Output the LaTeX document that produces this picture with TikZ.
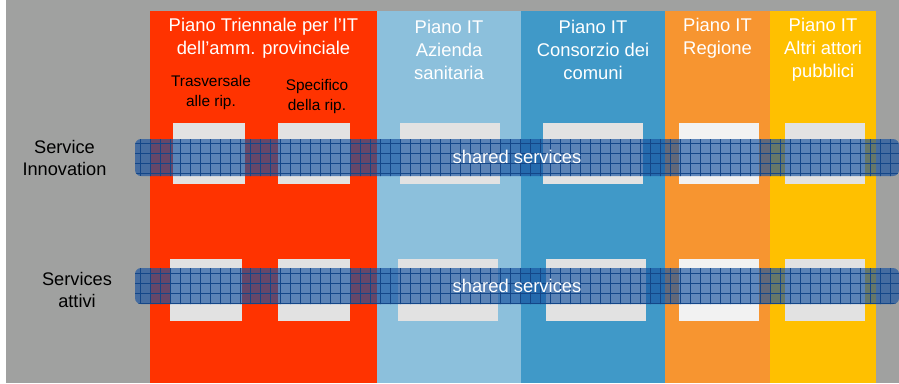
\documentclass[tikz,border=0pt]{standalone}
\usepackage{fontspec}
\setmainfont{Liberation Sans}
\usetikzlibrary{patterns.meta}

\definecolor{grigio}{RGB}{160,161,160}
\definecolor{rosso}{RGB}{255,51,0}
\definecolor{azzurro}{RGB}{140,192,220}
\definecolor{blu}{RGB}{64,153,200}
\definecolor{arancio}{RGB}{247,149,48}
\definecolor{giallo}{RGB}{255,192,0}
\definecolor{casella}{RGB}{226,226,226}
\definecolor{casellachiara}{RGB}{242,242,242}
\definecolor{fascia}{RGB}{22,82,160}

\tikzset{
  titolo/.style={align=center, text=white, font=\fontsize{18.4}{23}\selectfont},
  sottotitolo/.style={align=center, text=black, font=\fontsize{15.4}{20}\selectfont},
  riga/.style={align=center, text=black, font=\fontsize{18.2}{22}\selectfont},
  fascia/.style={fill=fascia, fill opacity=0.66, rounded corners=6pt},
  griglia/.style={pattern={Lines[distance=10pt,angle=#1,line width=0.9pt]},
    pattern color=fascia!85!black, rounded corners=6pt},
}

\begin{document}
\begin{tikzpicture}[x=1pt, y=-1pt]
\useasboundingbox (0,0) rectangle (899,383);
\fill[grigio] (6,0) rectangle (899,383);

% colonne
\fill[rosso] (150,11) rectangle (377,383);
\fill[azzurro] (377,11) rectangle (521,383);
\fill[blu] (521,11) rectangle (665,383);
\fill[arancio] (665,11) rectangle (770,383);
\fill[giallo] (770,11) rectangle (876,383);

% caselle
\fill[casella] (173,123) rectangle (245,184);
\fill[casella] (278,123) rectangle (350,184);
\fill[casella] (400,123) rectangle (500,184);
\fill[casella] (543,123) rectangle (643,184);
\fill[casellachiara] (679,123) rectangle (759,184);
\fill[casella] (785,123) rectangle (865,184);

\fill[casella] (170,259) rectangle (242,321);
\fill[casella] (278,259) rectangle (350,321);
\fill[casella] (398,259) rectangle (498,321);
\fill[casella] (546,259) rectangle (646,321);
\fill[casellachiara] (679,259) rectangle (759,321);
\fill[casella] (785,259) rectangle (865,321);

% fasce
\fill[fascia] (135,139) rectangle (899,176);
\fill[griglia=0] (135,139) rectangle (899,176);
\fill[griglia=90] (135,139) rectangle (899,176);
\fill[fascia] (135,268) rectangle (899,304);
\fill[griglia=0] (135,268) rectangle (899,304);
\fill[griglia=90] (135,268) rectangle (899,304);

\node[titolo] at (263.5, 38.5)
  (prov) {Piano Triennale per l’IT\\dell’amm. provinciale};
\node[titolo] at (449, 50)
  (asl) {Piano IT\\Azienda\\sanitaria};
\node[titolo] at (593, 50)
  (cons) {Piano IT\\Consorzio dei\\comuni};
\node[titolo] at (717.5, 38.5)
  (reg) {Piano IT\\Regione};
\node[titolo] at (823, 50)
  (altri) {Piano IT\\Altri attori\\pubblici};

\node[sottotitolo] at (211, 93)
  (trasv) {Trasversale\\alle rip.};
\node[sottotitolo] at (317, 96.5)
  (spec) {Specifico\\della rip.};

\node[riga] at (64.5, 158)
  (innov) {Service\\Innovation};
\node[riga] at (77, 289.5)
  (attivi) {Services\\attivi};

\node[titolo] at (517, 157)
  (shared1) {shared services};
\node[titolo] at (517, 286)
  (shared2) {shared services};

\end{tikzpicture}
\end{document}
